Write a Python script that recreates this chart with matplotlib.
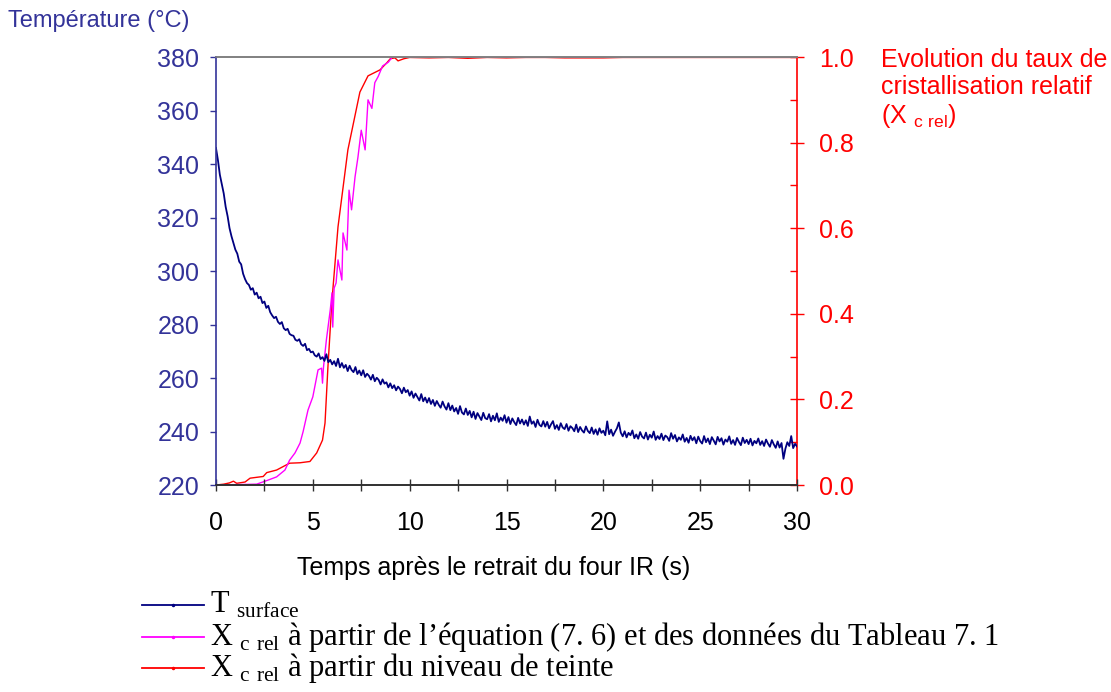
import matplotlib
matplotlib.use("Agg")
import matplotlib.pyplot as plt
from matplotlib.lines import Line2D
from matplotlib.ticker import MultipleLocator

plt.rcParams['font.family'] = ['Liberation Sans', 'DejaVu Sans']
plt.rcParams['mathtext.fontset'] = 'custom'
plt.rcParams['mathtext.rm'] = 'Liberation Serif'
plt.rcParams['mathtext.sf'] = 'Liberation Sans'

# surface temperature, one reading every 0.1 s from 0 to 30 s
t_temp = [round(0.1 * i, 1) for i in range(301)]
temp = [346.0, 341.5, 336.0, 332.5, 329.0, 324.0, 320.5, 316.0, 313.0, 310.5,
        308.0, 306.5, 303.5, 302.5, 299.0, 297.0, 295.5, 294.8, 293.0, 293.6,
        291.2, 291.9, 289.8, 290.4, 288.0, 288.6, 286.2, 287.0, 284.6, 283.4,
        282.4, 282.9, 281.0, 280.2, 280.9, 278.6, 277.9, 278.4, 276.5, 276.0,
        275.8, 274.3, 273.9, 274.5, 272.6, 272.0, 272.8, 270.4, 270.9, 269.6,
        269.9, 268.5, 268.0, 269.2, 267.1, 267.8, 266.4, 268.9, 265.9, 266.8,
        265.1, 266.3, 264.5, 267.2, 264.0, 265.6, 263.8, 264.9, 262.6, 264.6,
        263.0, 262.2, 264.1, 261.5, 262.8, 261.0, 262.9, 260.4, 261.6, 260.8,
        259.4, 261.2, 258.8, 260.1, 259.3, 257.6, 259.5, 257.9, 258.4, 256.5,
        258.0, 256.2, 257.3, 255.4, 256.8, 255.9, 254.3, 256.4, 254.7, 255.5,
        253.4, 255.0, 252.6, 254.2, 252.9, 251.6, 254.0, 251.3, 252.7, 250.8,
        252.5, 250.3, 251.8, 249.6, 251.4, 250.0, 248.9, 251.2, 249.4, 248.2,
        250.6, 248.0, 249.7, 247.5, 248.8, 246.6, 249.5, 247.1, 246.4, 248.6,
        246.2, 247.7, 245.3, 247.4, 244.7, 246.9, 245.6, 244.3, 247.0, 245.0,
        244.6, 246.5, 243.8, 245.9, 244.2, 246.8, 243.6, 245.2, 244.0, 246.1,
        243.3, 245.4, 242.8, 244.9, 243.5, 242.4, 245.1, 243.0, 244.5, 242.6,
        244.2, 242.1, 245.6, 242.9, 243.8, 241.7, 244.4, 242.5, 241.9, 243.9,
        241.8, 243.6, 241.2, 242.7, 243.9, 241.0, 242.4, 240.6, 243.1, 241.5,
        240.9, 242.8, 240.3, 242.0, 241.3, 240.1, 242.6, 239.8, 241.7, 240.4,
        239.6, 241.9, 240.2, 239.4, 241.5, 239.1, 240.8, 238.8, 241.2, 239.5,
        240.3, 238.6, 243.8, 239.0, 240.7, 238.4, 239.9, 241.2, 243.4, 239.6,
        238.2, 240.1, 237.8, 239.5, 238.6, 240.4, 237.5, 238.9, 237.3, 239.8,
        238.1, 237.4, 239.6, 237.0, 238.8, 237.7, 240.0, 236.9, 238.3, 237.2,
        239.2, 236.8, 238.5, 237.9, 236.5, 239.4, 237.3, 238.7, 236.3, 237.8,
        236.9, 238.9, 236.2, 237.6, 235.8, 238.4, 236.7, 237.9, 235.6, 238.1,
        236.4, 235.5, 238.3, 236.0, 237.4, 235.3, 237.9, 236.6, 235.2, 238.0,
        236.3, 237.5, 235.1, 237.0, 236.2, 238.2, 235.4, 236.8, 235.0, 237.6,
        236.1, 234.9, 237.7, 235.7, 236.9, 235.3, 237.3, 234.8, 236.5, 235.6,
        237.4, 235.0, 236.4, 234.6, 237.0, 235.5, 234.3, 236.8, 235.2, 233.9,
        236.3, 234.0, 235.7, 229.8, 233.6, 236.0, 234.6, 238.3, 233.8, 235.4,
        234.4]

# relative crystallinity from the grey level (red)
t_red = [0, 0.4, 0.7, 0.9, 1.07, 1.5, 1.76, 2.44, 2.62, 3.13, 3.8, 4.34,
         4.85, 5.2, 5.5, 5.63, 5.78, 5.99, 6.3, 6.81, 7.43, 7.85, 8.47, 8.83,
         9.0, 9.24, 9.4, 9.7, 10.0, 11, 12, 13, 14, 15, 16, 17, 18, 20, 21,
         23, 25, 27, 30]
x_red = [0.0, 0.002, 0.005, 0.009, 0.004, 0.007, 0.016, 0.02, 0.029, 0.035,
         0.051, 0.052, 0.055, 0.075, 0.105, 0.145, 0.276, 0.432, 0.603, 0.783,
         0.918, 0.956, 0.97, 0.987, 0.996, 0.998, 0.991, 0.996, 0.999, 0.998,
         0.999, 0.997, 0.999, 0.998, 0.999, 0.999, 0.998, 0.998, 0.999, 0.999,
         0.999, 0.999, 0.999]

# relative crystallinity from equation (7. 6) (magenta)
t_mag = [0, 2.1, 2.6, 3.13, 3.56, 3.8, 4.08, 4.34, 4.5, 4.75, 5.0, 5.27,
         5.45, 5.5, 5.55, 5.7, 5.9, 5.99, 6.03, 6.1, 6.2, 6.3, 6.5, 6.56,
         6.76, 6.87, 7.0, 7.18, 7.33, 7.5, 7.7, 7.85, 8.05, 8.2, 8.38, 8.6,
         8.9, 9.1, 30]
x_mag = [0, 0.002, 0.01, 0.019, 0.035, 0.058, 0.075, 0.098, 0.125, 0.175,
         0.206, 0.269, 0.273, 0.238, 0.275, 0.339, 0.409, 0.449, 0.369, 0.46,
         0.472, 0.526, 0.479, 0.589, 0.549, 0.689, 0.643, 0.72, 0.766, 0.829,
         0.783, 0.9, 0.88, 0.94, 0.955, 0.979, 0.988, 1.0, 1.0]

blue_ax = '#333399'
fig = plt.figure(figsize=(11.11, 6.92), dpi=100)
ax = fig.add_axes([0.1944, 0.2991, 0.5230, 0.6185])
ax2 = ax.twinx()

ax2.plot(t_red, x_red, color='#FF0000', lw=1.0)
ax2.plot(t_mag, x_mag, color='#FF00FF', lw=1.0)
ax.plot(t_temp, temp, color='#000080', lw=1.3)
ax.set_zorder(ax2.get_zorder() + 1)
ax.patch.set_visible(False)

ax.set_xlim(0, 30)
ax.set_ylim(220, 380)
ax2.set_ylim(0, 1)

ax.xaxis.set_major_locator(MultipleLocator(5))
ax.xaxis.set_minor_locator(MultipleLocator(2.5))
ax.yaxis.set_major_locator(MultipleLocator(20))
ax2.yaxis.set_major_locator(MultipleLocator(0.2))
ax2.yaxis.set_minor_locator(MultipleLocator(0.1))
ax2.yaxis.set_major_formatter(lambda v, p: f"{v:.1f}")

ax.tick_params(axis='x', which='both', direction='inout', length=9, width=1,
               color='#303030', labelsize=18, pad=14)
ax.tick_params(axis='y', direction='out', length=4, width=1, color=blue_ax,
               labelcolor=blue_ax, labelsize=18, pad=8)
ax2.tick_params(axis='y', which='major', direction='inout', length=10, width=1,
                color='red', labelcolor='red', labelsize=18, pad=11)
ax2.tick_params(axis='y', which='minor', direction='in', length=5, width=1,
                color='red')

for a in (ax, ax2):
    a.spines['top'].set_color('#808080')
    a.spines['bottom'].set_color('#303030')
    a.spines['left'].set_color(blue_ax)
    a.spines['right'].set_color('red')
    for s in a.spines.values():
        s.set_linewidth(1.2)
ax.spines['right'].set_visible(False)
ax2.spines['left'].set_visible(False)

ax.set_xlabel('Temps après le retrait du four IR (s)', fontsize=18)
ax.xaxis.set_label_coords(0.477, -0.165)

fig.text(0.007, 0.97, 'Température (°C)', color=blue_ax, fontsize=17,
         ha='left', va='center')
fig.text(0.793, 0.93,
         'Evolution du taux de\ncristallisation relatif\n(X $_{\\mathsf{c\\ rel}}$)',
         color='red', fontsize=18, ha='left', va='top', linespacing=1.15)

# legend drawn by hand below the chart
leg_colors = ['#000080', '#FF00FF', '#FF0000']
leg_labels = ['T $_{\\mathrm{surface}}$',
              'X $_{\\mathrm{c\\ rel}}$ à partir de l’équation (7. 6) et des données du Tableau 7. 1',
              'X $_{\\mathrm{c\\ rel}}$ à partir du niveau de teinte']
leg_y = [0.126, 0.080, 0.035]
for c, lab, yy in zip(leg_colors, leg_labels, leg_y):
    fig.add_artist(Line2D([0.128, 0.1555, 0.184], [yy, yy, yy], color=c,
                          lw=1.3, marker='o', markersize=1.5, markevery=[1],
                          transform=fig.transFigure))
    fig.text(0.189, yy, lab, fontsize=22, family='Liberation Serif',
             ha='left', va='center')

fig.savefig('out.png', dpi=100)
